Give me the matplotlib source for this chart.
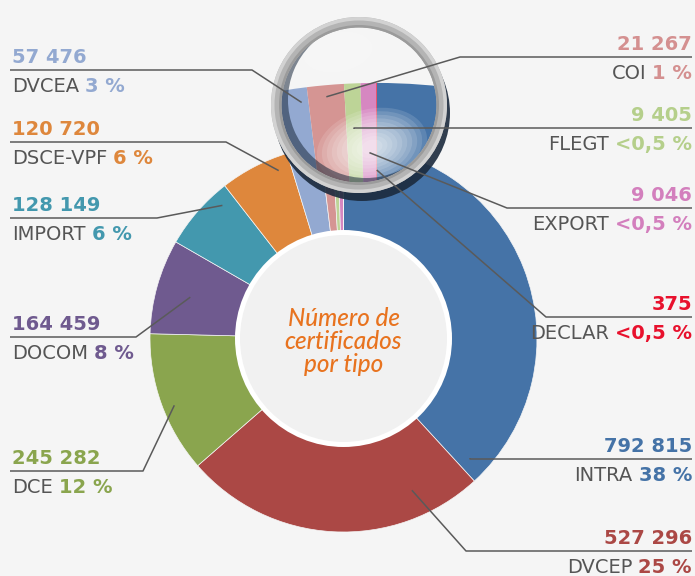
import matplotlib.pyplot as plt
from matplotlib.patches import Circle, Wedge, Ellipse
import numpy as np

names = ['INTRA', 'DVCEP', 'DCE', 'DOCOM', 'IMPORT', 'DSCE-VPF', 'DVCEA', 'COI', 'FLEGT', 'EXPORT', 'DECLAR']
counts = [792815, 527296, 245282, 164459, 128149, 120720, 57476, 21267, 9405, 9046, 375]
value_labels = ['792 815', '527 296', '245 282', '164 459', '128 149', '120 720',
                '57 476', '21 267', '9 405', '9 046', '375']
pct_labels = ['38 %', '25 %', '12 %', '8 %', '6 %', '6 %', '3 %', '1 %', '<0,5 %', '<0,5 %', '<0,5 %']
colors = ['#4573a7', '#ab4845', '#8aa54e', '#6f5a8f', '#4398ae', '#de873c',
          '#93a9d1', '#d59593', '#bdd497', '#d687c1', '#e8132e']
text_colors = ['#4573a7', '#ab4845', '#8aa54e', '#6f5a8f', '#4398ae', '#de873c',
               '#93a9d1', '#d49090', '#b5cf8b', '#d37fbd', '#e8112d']

# label layout: side, leader line row (px from top), elbow x, which pie, fraction along wedge, radius fraction
layout = {
    'INTRA':    ('right', 459, None, 'main', 0.97, 0.90),
    'DVCEP':    ('right', 551, 466, 'main', 0.20, 0.86),
    'DCE':      ('left', 471, 143, 'main', 0.46, 0.94),
    'DOCOM':    ('left', 337, 136, 'main', 0.48, 0.82),
    'IMPORT':   ('left', 218, 157, 'main', 0.80, 0.93),
    'DSCE-VPF': ('left', 142, 226, 'main', 0.80, 0.93),
    'DVCEA':    ('left', 70, 252, 'lens', 0.93, 0.975),
    'COI':      ('right', 57, 460, 'lens', 0.50, 0.98),
    'FLEGT':    ('right', 128, None, 'lens', 0.50, 0.922),
    'EXPORT':   ('right', 208, 507, 'lens', 0.50, 0.88),
    'DECLAR':   ('right', 317, 546, 'lens', 0.50, 0.85),
}

W, H = 695, 576
BG = '#f5f5f5'
GRAY = '#555555'
FS = 14
FONT = 'DejaVu Sans'

def py(y):
    return H - y

fig = plt.figure(figsize=(W / 100, H / 100), dpi=100, facecolor=BG)
ax = fig.add_axes([0, 0, 1, 1])
ax.set_facecolor(BG)

# main donut
cx, cy, R = 343.5, py(338.5), 193.5
wedges, _ = ax.pie(counts, colors=colors, startangle=90, counterclock=False,
                   radius=R, center=(cx, cy),
                   wedgeprops=dict(width=R - 104, edgecolor='#f5f5f5', linewidth=0.5, zorder=1))
ax.add_patch(Circle((cx, cy), 108.5, facecolor='white', edgecolor='none', zorder=2))
ax.add_patch(Circle((cx, cy), 103.5, facecolor='#f1f1f1', edgecolor='none', zorder=2))
ax.text(cx, cy - 3, 'Número de\ncertificados\npor tipo', ha='center', va='center',
        family='Lato', style='italic', fontweight='medium', color='#e8731f',
        fontsize=17.5, linespacing=1.02, zorder=3)

# magnifier
lx, ly, lr = 359, py(105), 78
M = 3.0
focus = (-0.031, 0.962)
mcx = lx - M * R * focus[0]
mcy = ly - M * R * focus[1]

# drop shadow under the ring
ax.add_patch(Circle((lx + 3, ly - 8), 88, facecolor='#1b2a3d', edgecolor='none', alpha=0.9, zorder=3.5))

lens = Circle((lx, ly), lr, facecolor=BG, edgecolor='none', zorder=4)
ax.add_patch(lens)
mwedges, _ = ax.pie(counts, colors=colors, startangle=90, counterclock=False,
                    radius=M * R, center=(mcx, mcy),
                    wedgeprops=dict(width=M * R * 0.5, edgecolor='none', linewidth=0, zorder=5))
for w in mwedges:
    w.set_clip_on(True)
    w.set_clip_path(lens)

# soft top highlight
for k in range(6):
    s = 1 - k * 0.15
    e = Ellipse((338, py(52)), 70 * s, 40 * s, angle=10, facecolor='white',
                alpha=0.10, edgecolor='none', zorder=6)
    ax.add_patch(e)
    e.set_clip_path(lens)

# glare
for k in range(10):
    s = 1 - k * 0.09
    e = Ellipse((372, py(147)), 112 * s, 76 * s, angle=14, facecolor='white',
                alpha=0.13, edgecolor='none', zorder=6)
    ax.add_patch(e)
    e.set_clip_path(lens)

# inner rim shadow, heavier at lower left
rim = Wedge((lx + 7, ly + 5), 120, 0, 360, width=120 - lr,
            facecolor='#1b2a3d', edgecolor='none', alpha=0.55, zorder=6.5)
ax.add_patch(rim)
rim.set_clip_path(lens)

ax.add_patch(Wedge((lx, ly), 88, 0, 360, width=10.5, facecolor='#b4b4b4', edgecolor='none', zorder=8))
ax.add_patch(Wedge((lx, ly), 88, 0, 360, width=3.5, facecolor='#d2d2d2', edgecolor='none', zorder=8))
ax.add_patch(Wedge((lx, ly), 80, 0, 360, width=2.5, facecolor='#9b9b9b', edgecolor='none', zorder=8))

ax.set_xlim(0, W)
ax.set_ylim(0, H)
ax.set_aspect('equal')
ax.axis('off')


def anchor(w, t, rf):
    th = np.radians(w.theta2 - t * (w.theta2 - w.theta1))
    rr = w.r * rf
    return w.center[0] + rr * np.cos(th), w.center[1] + rr * np.sin(th)


fig.canvas.draw()
rend = fig.canvas.get_renderer()
inv = ax.transData.inverted()

for i, nm in enumerate(names):
    side, row, elbow, which, t, rf = layout[nm]
    w = wedges[i] if which == 'main' else mwedges[i]
    axp, ayp = anchor(w, t, rf)
    ly_ = py(row)
    if elbow is None:
        elbow = axp
    end = 10 if side == 'left' else 692
    ax.plot([axp, elbow, end], [ayp, ly_, ly_], color='#5a5a5a', lw=1.1,
            solid_capstyle='butt', zorder=10)

    if side == 'left':
        ax.text(12, ly_ + 7, value_labels[i], color=text_colors[i], fontsize=FS,
                fontweight='bold', family=FONT, ha='left', va='baseline', zorder=11)
        tn = ax.text(12, ly_ - 22, nm, color=GRAY, fontsize=FS, family=FONT,
                     ha='left', va='baseline', zorder=11)
        x1 = inv.transform(tn.get_window_extent(rend))[1][0]
        ax.text(x1 + 6, ly_ - 22, pct_labels[i], color=text_colors[i], fontsize=FS,
                fontweight='bold', family=FONT, ha='left', va='baseline', zorder=11)
    else:
        ax.text(692, ly_ + 7, value_labels[i], color=text_colors[i], fontsize=FS,
                fontweight='bold', family=FONT, ha='right', va='baseline', zorder=11)
        tp = ax.text(692, ly_ - 22, pct_labels[i], color=text_colors[i], fontsize=FS,
                     fontweight='bold', family=FONT, ha='right', va='baseline', zorder=11)
        x0 = inv.transform(tp.get_window_extent(rend))[0][0]
        ax.text(x0 - 6, ly_ - 22, nm, color=GRAY, fontsize=FS, family=FONT,
                ha='right', va='baseline', zorder=11)

fig.savefig('out.png', dpi=100, facecolor=BG)
